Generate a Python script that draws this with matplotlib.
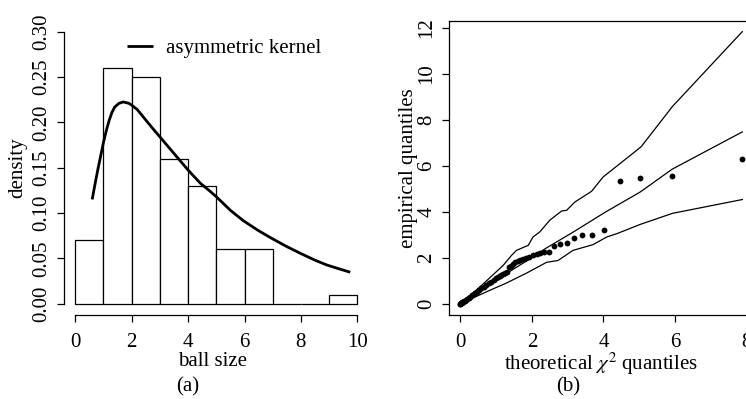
import numpy as np
import matplotlib
matplotlib.use("Agg")
import matplotlib.pyplot as plt

plt.rcParams['font.family'] = 'serif'
plt.rcParams['font.serif'] = ['Liberation Serif', 'DejaVu Serif']
plt.rcParams['mathtext.fontset'] = 'stix'
plt.rcParams['font.size'] = 15

# histogram of ball sizes (unit bins) and the asymmetric kernel estimate
bin_edges = [0, 1, 2, 3, 4, 5, 6, 7, 8, 9, 10]
hist_density = [0.07, 0.26, 0.25, 0.16, 0.13, 0.06, 0.06, 0.0, 0.0, 0.01]

kernel_x = [0.60, 0.70, 0.80, 0.90, 1.00, 1.10, 1.20, 1.30, 1.40, 1.55, 1.70,
            1.90, 2.00, 2.20, 2.41, 2.70, 3.00, 3.30, 3.60, 4.01, 4.43, 4.78,
            5.00, 5.50, 5.96, 6.50, 6.97, 7.50, 7.98, 8.50, 8.92, 9.30, 9.75]
kernel_y = [0.115, 0.132, 0.148, 0.163, 0.178, 0.191, 0.202, 0.211, 0.217, 0.221, 0.2225,
            0.221, 0.219, 0.214, 0.206, 0.195, 0.184, 0.173, 0.162, 0.147, 0.133, 0.124,
            0.118, 0.103, 0.0915, 0.0805, 0.072, 0.063, 0.0556, 0.048, 0.0427, 0.039, 0.0347]

# chi-square QQ plot: observed quantiles and simulated envelope
qq_theo = [0.00, 0.003, 0.01, 0.02, 0.035, 0.05, 0.07, 0.10, 0.13, 0.16, 0.20, 0.24,
           0.28, 0.32, 0.37, 0.42, 0.47, 0.53, 0.59, 0.65, 0.72, 0.79, 0.86, 0.93,
           1.00, 1.05, 1.10, 1.14, 1.19, 1.24, 1.30, 1.35, 1.41, 1.47, 1.54, 1.61,
           1.68, 1.76, 1.84, 1.93, 2.02, 2.13, 2.24, 2.35, 2.48, 2.63, 2.79, 2.97,
           3.17, 3.40, 3.68, 4.02, 4.46, 5.02, 5.92, 7.88]
qq_emp = [0.00, 0.01, 0.02, 0.03, 0.04, 0.06, 0.08, 0.11, 0.14, 0.18, 0.22, 0.27,
          0.31, 0.36, 0.41, 0.47, 0.53, 0.60, 0.67, 0.74, 0.81, 0.89, 0.96, 1.04,
          1.11, 1.16, 1.21, 1.26, 1.30, 1.35, 1.40, 1.58, 1.66, 1.73, 1.80, 1.86,
          1.91, 1.96, 2.00, 2.05, 2.10, 2.15, 2.19, 2.24, 2.26, 2.52, 2.61, 2.62,
          2.86, 2.97, 2.98, 3.22, 5.34, 5.48, 5.56, 6.27]

upper_x = [0, 0.54, 1.20, 1.43, 1.57, 1.90, 2.03, 2.22, 2.50, 2.83, 2.97, 3.20,
           3.67, 3.99, 4.46, 5.05, 5.93, 7.88]
upper_y = [0, 0.72, 1.67, 2.10, 2.32, 2.54, 2.90, 3.12, 3.63, 4.03, 4.06, 4.42,
           4.89, 5.51, 6.09, 6.82, 8.58, 11.83]
middle_x = [0, 0.50, 1.00, 1.50, 2.00, 2.37, 3.16, 4.04, 5.03, 5.92, 7.88]
middle_y = [0, 0.52, 1.02, 1.52, 2.00, 2.39, 3.12, 3.97, 4.86, 5.85, 7.47]
lower_x = [0, 0.82, 1.29, 1.85, 2.41, 2.73, 3.15, 3.71, 4.09, 4.38, 5.03, 5.93, 7.88]
lower_y = [0, 0.58, 0.90, 1.33, 1.80, 1.88, 2.32, 2.57, 2.90, 3.05, 3.45, 3.93, 4.53]

fig = plt.figure(figsize=(7.46, 3.99), dpi=100)
ax1 = fig.add_axes([0.0858, 0.2115, 0.4083, 0.7364])
ax2 = fig.add_axes([0.6019, 0.2115, 0.4083, 0.7364])

# (a) histogram + kernel curve
widths = np.diff(bin_edges)
ax1.bar(bin_edges[:-1], hist_density, width=widths, align='edge',
        facecolor='white', edgecolor='black', linewidth=0.9)
ax1.plot(kernel_x, kernel_y, color='black', linewidth=2.0,
         label='asymmetric kernel', solid_capstyle='butt')
ax1.set_xlim(-0.4, 10.4)
ax1.set_ylim(-0.012, 0.312)
ax1.spines['top'].set_visible(False)
ax1.spines['right'].set_visible(False)
ax1.spines['left'].set_bounds(0, 0.30)
ax1.spines['bottom'].set_bounds(0, 10)
ax1.set_xticks([0, 2, 4, 6, 8, 10])
ax1.set_yticks(np.arange(0, 0.31, 0.05))
ax1.set_yticklabels(['%.2f' % v for v in np.arange(0, 0.31, 0.05)],
                    rotation=90, va='center')
ax1.set_ylabel('density', labelpad=4)
ax1.legend(loc='upper left', bbox_to_anchor=(0.16, 0.99), frameon=False,
           handlelength=1.25, handletextpad=0.6, borderaxespad=0.3)

# (b) QQ plot with envelope
ax2.plot(upper_x, upper_y, color='black', linewidth=0.9)
ax2.plot(middle_x, middle_y, color='black', linewidth=0.9)
ax2.plot(lower_x, lower_y, color='black', linewidth=0.9)
ax2.plot(qq_theo, qq_emp, 'o', color='black', markersize=4.2, markeredgewidth=0)
ax2.set_xlim(-0.315, 8.195)
ax2.set_ylim(-0.473, 12.30)
ax2.set_xticks([0, 2, 4, 6, 8])
ax2.set_yticks([0, 2, 4, 6, 8, 10, 12])
ax2.set_yticklabels(['0', '2', '4', '6', '8', '10', '12'], rotation=90, va='center')
ax2.set_ylabel('empirical quantiles', labelpad=0)

for ax in (ax1, ax2):
    for s in ax.spines.values():
        s.set_linewidth(0.9)
    ax.tick_params(direction='out', length=5, width=0.9)
    ax.tick_params(axis='x', pad=8)
    ax.tick_params(axis='y', pad=4)

fig.text(0.2855, 1 - 361 / 399, 'ball size', ha='center', va='center')
fig.text(0.806, 1 - 364 / 399, r'theoretical $\chi^2$ quantiles', ha='center', va='center')
fig.text(188 / 746, 1 - 387 / 399, '(a)', ha='center', va='center')
fig.text(568 / 746, 1 - 387 / 399, '(b)', ha='center', va='center')

fig.savefig('out.png', dpi=100)
